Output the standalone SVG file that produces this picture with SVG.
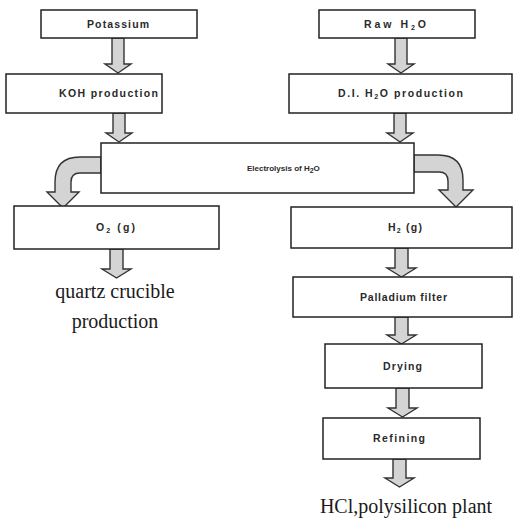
<svg xmlns="http://www.w3.org/2000/svg" width="513" height="521" viewBox="0 0 513 521">
<style>
.box{fill:#fff;stroke:#222;stroke-width:1.5}
.arr{fill:#d4d4d4;stroke:#333;stroke-width:1.4;stroke-linejoin:miter}
.lbl{font-family:"Liberation Sans","DejaVu Sans",sans-serif;font-size:10.5px;font-weight:bold;fill:#2a2a2a}
.sm{font-size:8px}
.sub{font-size:7px}
.out{font-family:"Liberation Serif","DejaVu Serif",serif;font-size:20px;fill:#1a1a1a;text-anchor:middle}
</style>
<rect width="513" height="521" fill="#fff"/>
<g id="connectors">
<path class="arr" d="M112,38 H124 V64 H131 L118,73 L105,64 H112 Z"/>
<path class="arr" d="M395,38 H407 V64 H414 L401,73 L388,64 H395 Z"/>
<path class="arr" d="M113,113 H125 V133 H132 L119,142 L106,133 H113 Z"/>
<path class="arr" d="M394,113 H406 V133 H413 L400,142 L387,133 H394 Z"/>
<path class="arr" d="M101,157 L80,157 Q55,157 55,182 L55,192 L47,192 L63,208 L79,192 L71,192 L71,182 Q71,173 80,173 L101,173 Z"/>
<path class="arr" d="M414,155 L438,155 Q463,155 463,180 L463,190 L473,190 L456,207 L439,190 L448,190 L448,181 Q448,172 439,172 L414,172 Z"/>
<path class="arr" d="M110,249 H123 V269 H131 L116.5,278 L102,269 H110 Z"/>
<path class="arr" d="M395,248 H408 V268 H416 L401.5,277 L387,268 H395 Z"/>
<path class="arr" d="M395,317 H408 V335 H416 L401.5,344 L387,335 H395 Z"/>
<path class="arr" d="M396,388 H409 V408 H417 L402.5,417 L388,408 H396 Z"/>
<path class="arr" d="M393,459 H406 V478 H414 L399.5,487 L385,478 H393 Z"/>
</g>
<g id="potassium"><rect class="box" x="41" y="10" width="156" height="28"/><text class="lbl" x="87" y="28" textLength="62" lengthAdjust="spacing">Potassium</text></g>
<g id="raw-h2o"><rect class="box" x="319" y="10" width="156" height="28"/><text class="lbl" x="364" y="28" textLength="62" lengthAdjust="spacing">Raw H<tspan class="sub" dy="2">2</tspan><tspan dy="-2">O</tspan></text></g>
<g id="koh"><rect class="box" x="6" y="74" width="156" height="39"/><text class="lbl" x="59" y="97" textLength="99" lengthAdjust="spacing">KOH production</text></g>
<g id="di-h2o"><rect class="box" x="289" y="74" width="223" height="39"/><text class="lbl" x="338" y="97" textLength="125" lengthAdjust="spacing">D.I. H<tspan class="sub" dy="2">2</tspan><tspan dy="-2">O production</tspan></text></g>
<g id="electrolysis"><rect class="box" x="101" y="143" width="313" height="50"/><text class="lbl sm" x="247" y="171">Electrolysis of H<tspan class="sub" dy="2">2</tspan><tspan dy="-2">O</tspan></text></g>
<g id="o2"><rect class="box" x="14" y="206" width="205" height="43"/><text class="lbl" x="96" y="231" textLength="39" lengthAdjust="spacing">O<tspan class="sub" dy="2">2</tspan><tspan dy="-2"> (g)</tspan></text></g>
<g id="h2"><rect class="box" x="291" y="207" width="221" height="41"/><text class="lbl" x="388" y="231" textLength="34" lengthAdjust="spacing">H<tspan class="sub" dy="2">2</tspan><tspan dy="-2"> (g)</tspan></text></g>
<g id="palladium"><rect class="box" x="293" y="277" width="219" height="40"/><text class="lbl" x="360" y="301" textLength="87" lengthAdjust="spacing">Palladium filter</text></g>
<g id="drying"><rect class="box" x="325" y="344" width="157" height="44"/><text class="lbl" x="383" y="370" textLength="39" lengthAdjust="spacing">Drying</text></g>
<g id="refining"><rect class="box" x="323" y="418" width="157" height="41"/><text class="lbl" x="373" y="442" textLength="52" lengthAdjust="spacing">Refining</text></g>
<g id="quartz"><text class="out" x="115" y="298">quartz crucible</text><text class="out" x="115" y="328">production</text></g>
<g id="hcl"><text class="out" x="406" y="513">HCl,polysilicon plant</text></g>
</svg>
